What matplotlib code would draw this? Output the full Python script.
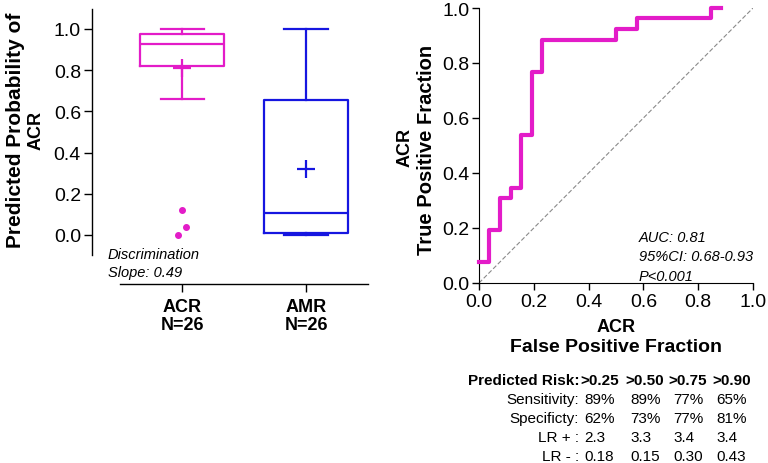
import matplotlib
matplotlib.use("Agg")
import matplotlib.pyplot as plt

plt.rcParams['font.family'] = ['Liberation Sans', 'DejaVu Sans']

# ---------------- data ----------------
groups = ["ACR\nN=26", "AMR\nN=26"]
box_q1 = [0.82, 0.01]
box_med = [0.925, 0.105]
box_q3 = [0.975, 0.655]
box_lo = [0.66, 0.0]
box_hi = [1.0, 1.0]
box_mean = [0.81, 0.32]
acr_outliers = [0.12, 0.04, 0.0]

roc_fpf = [0.0, 0.038, 0.077, 0.115, 0.154, 0.192, 0.231, 0.5, 0.577, 0.846, 0.885]
roc_tpf = [0.077, 0.192, 0.308, 0.346, 0.538, 0.769, 0.885, 0.923, 0.962, 1.0, 1.0]

ticks = [0.0, 0.2, 0.4, 0.6, 0.8, 1.0]

table_header = ["Predicted Risk:", ">0.25", ">0.50", ">0.75", ">0.90"]
table_rows = ["Sensitivity:", "Specificty:", "LR + :", "LR - :"]
sensitivity = ["89%", "89%", "77%", "65%"]
specificity = ["62%", "73%", "77%", "81%"]
lr_pos = ["2.3", "3.3", "3.4", "3.4"]
lr_neg = ["0.18", "0.15", "0.30", "0.43"]

MAG = "#E31CC8"
BLUE = "#1616E0"
colors = [MAG, BLUE]

W, H = 768, 464
fig = plt.figure(figsize=(W / 100, H / 100), dpi=100)

def fx(x):
    return x / W

def fy(y):
    return 1 - y / H

TICK_FS = 14

# ---------------- left panel: box plots ----------------
axL = fig.add_axes([fx(92), fy(285), fx(368) - fx(92), fy(10) - fy(285)])
axL.set_xlim(-0.726, 1.5)
axL.set_ylim(-0.238, 1.097)

for i in range(2):
    st = [dict(med=box_med[i], q1=box_q1[i], q3=box_q3[i], whislo=box_lo[i],
               whishi=box_hi[i], mean=box_mean[i], fliers=[])]
    c = colors[i]
    lp = dict(color=c, linewidth=1.6)
    axL.bxp(st, positions=[i], widths=0.67, capwidths=0.347, showmeans=True,
            meanline=False, showfliers=False,
            boxprops=lp, whiskerprops=lp, capprops=lp, medianprops=lp,
            meanprops=dict(marker='+', markersize=13, markeredgewidth=1.6,
                           markeredgecolor=c, markerfacecolor=c, zorder=5))

jit = [0.0, 0.032, -0.032]
axL.plot([0 + j for j in jit], acr_outliers, 'o', color=MAG, markersize=4,
         linestyle='none', clip_on=False)

axL.spines['top'].set_visible(False)
axL.spines['right'].set_visible(False)
axL.spines['left'].set_bounds(-0.097, 1.097)
axL.spines['bottom'].set_bounds(-0.5, 1.5)
for s in ['left', 'bottom']:
    axL.spines[s].set_linewidth(1.0)
axL.set_yticks(ticks)
axL.set_yticklabels([f"{t:.1f}" for t in ticks], fontsize=TICK_FS)
axL.set_xticks([0, 1])
axL.set_xticklabels(groups, fontsize=13, fontweight='bold', linespacing=1.05)
axL.tick_params(axis='both', length=6, width=1)
axL.tick_params(axis='y', pad=2)
axL.tick_params(axis='x', pad=4)
fig.text(fx(16), fy(130), "Predicted Probability of", rotation=90, fontsize=15,
         fontweight='bold', ha='center', va='center')
fig.text(fx(36), fy(130), "ACR", rotation=90, fontsize=13,
         fontweight='bold', ha='center', va='center')
fig.text(fx(108), fy(255), "Discrimination", fontsize=10.5, style='italic',
         va='center', ha='left')
fig.text(fx(108), fy(273), "Slope: 0.49", fontsize=10.5, style='italic',
         va='center', ha='left')

# ---------------- right panel: ROC ----------------
axR = fig.add_axes([fx(479), fy(284), fx(753) - fx(479), fy(9) - fy(284)])
axR.set_xlim(0, 1)
axR.set_ylim(0, 1)
axR.plot([0, 1], [0, 1], color='#8a8a8a', linewidth=0.8, dashes=(4, 2))
axR.plot(roc_fpf, roc_tpf, drawstyle='steps-post', color=MAG, linewidth=3,
         clip_on=False, zorder=4)
axR.spines['top'].set_visible(False)
axR.spines['right'].set_visible(False)
axR.set_xticks(ticks)
axR.set_yticks(ticks)
axR.set_xticklabels([f"{t:.1f}" for t in ticks], fontsize=TICK_FS)
axR.set_yticklabels([f"{t:.1f}" for t in ticks], fontsize=TICK_FS)
axR.tick_params(axis='both', length=5, width=1, pad=2)
fig.text(fx(405), fy(147), "ACR", rotation=90, fontsize=13,
         fontweight='bold', ha='center', va='center')
fig.text(fx(426), fy(150), "True Positive Fraction", rotation=90, fontsize=14.5,
         fontweight='bold', ha='center', va='center')
fig.text(fx(616), fy(328), "ACR", fontsize=13, fontweight='bold',
         ha='center', va='center')
fig.text(fx(616), fy(348), "False Positive Fraction", fontsize=14,
         fontweight='bold', ha='center', va='center')
for k, t in enumerate(["AUC: 0.81", "95%CI: 0.68-0.93", "P<0.001"]):
    fig.text(fx(639), fy(238 + 19.5 * k), t, fontsize=10.5, style='italic',
             va='center', ha='left')

# ---------------- table ----------------
head_x = [580, 625, 668, 712]
val_x = [584, 630, 673, 716]
row_y = [381, 400, 419, 438, 457]
fig.text(fx(579), fy(row_y[0]), table_header[0], fontsize=11, fontweight='bold',
         ha='right', va='center')
for j in range(4):
    fig.text(fx(head_x[j]), fy(row_y[0]), table_header[j + 1], fontsize=11,
             fontweight='bold', ha='left', va='center')
for r, (lab, vals) in enumerate(zip(table_rows, [sensitivity, specificity, lr_pos, lr_neg])):
    fig.text(fx(579), fy(row_y[r + 1]), lab, fontsize=11, ha='right', va='center')
    for j in range(4):
        fig.text(fx(val_x[j]), fy(row_y[r + 1]), vals[j], fontsize=11,
                 ha='left', va='center')

fig.savefig("out.png", dpi=100)
